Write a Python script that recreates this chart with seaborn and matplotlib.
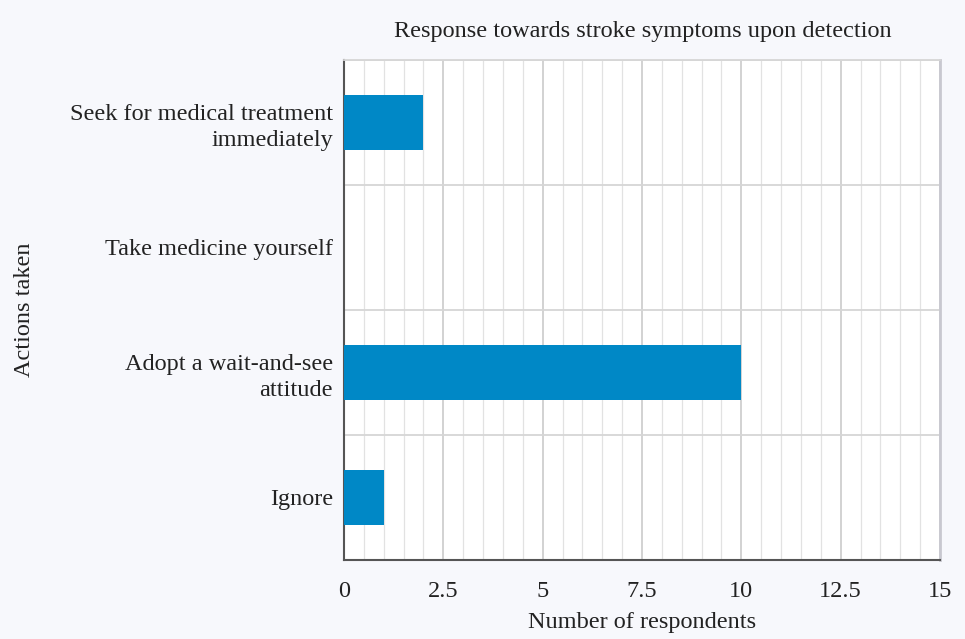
import matplotlib
matplotlib.use("Agg")
import matplotlib.pyplot as plt
import seaborn as sns
import pandas as pd
import numpy as np
from matplotlib.ticker import MultipleLocator

categories = ["Seek for medical treatment\nimmediately", "Take medicine yourself",
              "Adopt a wait-and-see\nattitude", "Ignore"]
values = [2, 0, 10, 1]
x_ticks = [0, 2.5, 5, 7.5, 10, 12.5, 15]
x_tick_labels = ["0", "2.5", "5", "7.5", "10", "12.5", "15"]

sns.set_theme(style="white")
plt.rcParams['font.family'] = ['Liberation Serif', 'DejaVu Serif']

FS = 17.5
df = pd.DataFrame({"action": categories, "count": values})

fig = plt.figure(figsize=(9.65, 6.39), dpi=100, facecolor="#f7f8fc")
ax = fig.add_axes([344/965, 1-560/639, (940-344)/965, (560-60)/639])
ax.set_facecolor("white")

sns.barplot(data=df, x="count", y="action", orient="h", color="#0088c6",
            saturation=1, width=0.44, ax=ax, zorder=3, linewidth=0)

ax.set_xlim(0, 15)
ax.set_ylim(3.5, -0.5)
ax.set_xticks(x_ticks)
ax.set_xticklabels(x_tick_labels, fontsize=FS, color="#222222")
ax.xaxis.set_minor_locator(MultipleLocator(0.5))
ax.set_yticks(range(len(categories)))
ax.set_yticklabels(categories, fontsize=FS, color="#222222", linespacing=1.3)
ax.set_yticks(np.arange(-0.5, len(categories) + 0.5, 1), minor=True)

ax.grid(True, which="major", axis="x", color="#cfcfcf", linewidth=1.3, zorder=0)
ax.grid(True, which="minor", axis="x", color="#e2e2e2", linewidth=0.9, zorder=0)
ax.grid(True, which="minor", axis="y", color="#d6d6d6", linewidth=1.3, zorder=0)
ax.grid(False, which="major", axis="y")

ax.tick_params(axis="y", which="major", length=0, pad=8)
ax.tick_params(axis="y", which="minor", length=6, width=1.3, color="#555555", direction="out")
ax.tick_params(axis="x", which="major", length=8, width=1.3, color="#555555", direction="inout", pad=11)
ax.tick_params(axis="x", which="minor", length=0)

for s in ["left", "bottom"]:
    ax.spines[s].set_color("#555555")
    ax.spines[s].set_linewidth(1.5)
ax.spines["top"].set_color("#d6d6d6")
ax.spines["top"].set_linewidth(1.3)
ax.spines["right"].set_color("#c8c8d0")
ax.spines["right"].set_linewidth(2)

ax.set_xlabel("Number of respondents", fontsize=FS, color="#222222", labelpad=7)
ax.set_ylabel("")
fig.text(25/965, 1-310/639, "Actions taken", rotation=90, fontsize=FS,
         color="#222222", ha="center", va="center")
fig.text(643/965, 1-31/639, "Response towards stroke symptoms upon detection",
         fontsize=FS, color="#222222", ha="center", va="center")

fig.savefig("out.png", dpi=100, facecolor=fig.get_facecolor())
